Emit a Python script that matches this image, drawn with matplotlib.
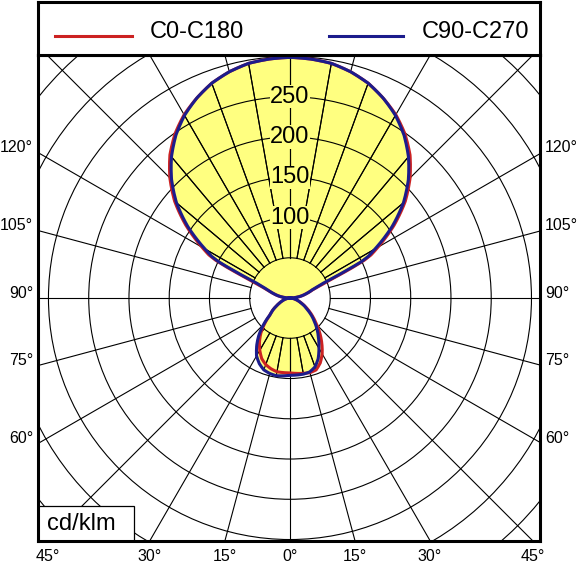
import numpy as np
import matplotlib.pyplot as plt
from matplotlib.patches import Polygon, Circle, Rectangle

plt.rcParams['font.family'] = ['Liberation Sans', 'DejaVu Sans']

# angles from nadir (deg), lower hemisphere and upper hemisphere
angles_down = [0, 5, 10, 15, 20, 25, 30, 35, 40, 45, 50, 55, 60, 65, 70, 75, 80, 85, 90]
angles_up = [95, 100, 105, 110, 112, 114, 115, 116, 117, 118, 120, 125, 130,
             135, 140, 145, 150, 155, 160, 165, 170, 175, 180]

# cd/klm, C0-C180 plane (red)
c0_right = [93, 94, 95, 96, 95, 89, 80, 69, 58, 47, 38, 30, 23, 17, 12, 8, 5, 2, 0]
c0_left = [93, 93, 93, 91, 88, 83, 75, 66, 56, 44, 32, 26, 19, 14, 10, 7, 4, 2, 0]
c0_up = [6, 14, 21, 30, 38, 52, 66, 86, 104, 114, 126, 158, 187,
         211, 232, 249, 263, 274, 284, 291, 296, 298, 299]

# cd/klm, C90-C270 plane (blue)
c90_right = [96, 96, 96, 95, 91, 83, 72, 62, 53, 44, 36, 28, 22, 16, 12, 8, 5, 2, 0]
c90_left = [96, 97, 98, 97, 95, 90, 83, 72, 60, 46, 32, 26, 19, 14, 10, 7, 4, 2, 0]
c90_up = [6, 14, 21, 29, 35, 45, 58, 78, 100, 110, 122, 155, 184,
          208, 229, 247, 262, 274, 284, 291, 296, 298, 299]

ring_values = [50, 100, 150, 200, 250, 300, 350, 400, 450]
ring_labels = [100, 150, 200, 250]
side_angles = [60, 75, 90, 105, 120]

legend_names = ['C0-C180', 'C90-C270']
red = '#cc2222'
blue = '#1c1c8c'
fill_col = '#ffff80'


def curve_xy(left, right, up):
    g = np.concatenate([-np.array(angles_up[::-1]), -np.array(angles_down[::-1]),
                        np.array(angles_down[1:]), np.array(angles_up)])
    v = np.concatenate([np.array(up[::-1]), np.array(left[::-1]),
                        np.array(right[1:]), np.array(up)])
    # draw between the read points along the polar angle
    gf = np.arange(-180, 180.01, 0.5)
    vf = np.interp(gf, g, v)
    rad = np.radians(gf)
    return np.column_stack([vf * np.sin(rad), -vf * np.cos(rad)])


fig = plt.figure(figsize=(5.8, 5.64), dpi=100)
ax = fig.add_axes([38 / 580, (564 - 540.5) / 564, 502 / 580, 485.5 / 564])
ax.set_xlim(-313, 310.6)
ax.set_ylim(-301.2, 301.9)
ax.set_xticks([])
ax.set_yticks([])
for s in ax.spines.values():
    s.set_linewidth(2.2)
    s.set_zorder(10)

xy_red = curve_xy(c0_left, c0_right, c0_up)
xy_blue = curve_xy(c90_left, c90_right, c90_up)

# 15 deg spokes sit under the fill
for a in range(0, 360, 15):
    t = np.radians(a)
    ax.plot([50 * np.sin(t), 600 * np.sin(t)], [50 * np.cos(t), 600 * np.cos(t)],
            color='black', lw=0.8, zorder=0.5)

fills = []
for xy in (xy_red, xy_blue):
    p = Polygon(xy, closed=True, facecolor=fill_col, edgecolor='none', zorder=1)
    ax.add_patch(p)
    fills.append(p)

for r in ring_values:
    ax.add_patch(Circle((0, 0), r, fill=False, edgecolor='black', lw=0.8, zorder=2))

# 10 deg rays inside the filled area
for p in fills:
    for a in range(0, 360, 10):
        t = np.radians(a)
        ln, = ax.plot([50 * np.sin(t), 400 * np.sin(t)], [50 * np.cos(t), 400 * np.cos(t)],
                      color='black', lw=0.8, zorder=2)
        ln.set_clip_path(p)

for v in ring_labels:
    ax.text(0, v, str(v), ha='center', va='center', fontsize=17, zorder=3,
            bbox=dict(facecolor=fill_col, edgecolor='none', pad=0.5))

ax.plot(xy_red[:, 0], xy_red[:, 1], color=red, lw=2.2, zorder=4, solid_joinstyle='round')
ax.plot(xy_blue[:, 0], xy_blue[:, 1], color=blue, lw=2.2, zorder=5, solid_joinstyle='round')

# angle labels on the sides
for a in side_angles:
    y = -313 / np.tan(np.radians(a)) if a != 90 else 0.0
    ax.text(-319, y + 6.2, f'{a}°', ha='right', va='center', fontsize=11.5, clip_on=False)
    ax.text(317, y + 6.2, f'{a}°', ha='left', va='center', fontsize=11.5, clip_on=False)

for a, sgn in zip([45, 30, 15, 0, 15, 30, 45], [-1, -1, -1, 1, 1, 1, 1]):
    x = sgn * 301.2 * np.tan(np.radians(a))
    ax.text(x, -321, f'{a}°', ha='center', va='center', fontsize=11.5, clip_on=False)

# unit box
ax.add_patch(Rectangle((0, 0), (134 - 38) / 502, (540.5 - 506) / 485.5, transform=ax.transAxes,
                       facecolor='white', edgecolor='black', lw=0.9, zorder=6))
ax.text((47 - 38) / 502, (540.5 - 530) / 485.5, 'cd/klm', transform=ax.transAxes,
        ha='left', va='baseline', fontsize=17, zorder=7)

# legend strip
lg = fig.add_axes([38 / 580, (564 - 55) / 564, 502 / 580, 53.5 / 564])
lg.set_xlim(0, 1)
lg.set_ylim(0, 1)
lg.set_xticks([])
lg.set_yticks([])
for s in lg.spines.values():
    s.set_linewidth(2.2)
ly = (55 - 36) / 53.5
lg.plot([(55 - 38) / 502, (132 - 38) / 502], [ly, ly], color=red, lw=2.2)
lg.plot([(329 - 38) / 502, (403 - 38) / 502], [ly, ly], color=blue, lw=2.2)
lg.text((150 - 38) / 502, (55 - 32.5) / 53.5, legend_names[0], ha='left', va='center', fontsize=17)
lg.text((422 - 38) / 502, (55 - 32.5) / 53.5, legend_names[1], ha='left', va='center', fontsize=17)

fig.savefig('out.png', dpi=100)
